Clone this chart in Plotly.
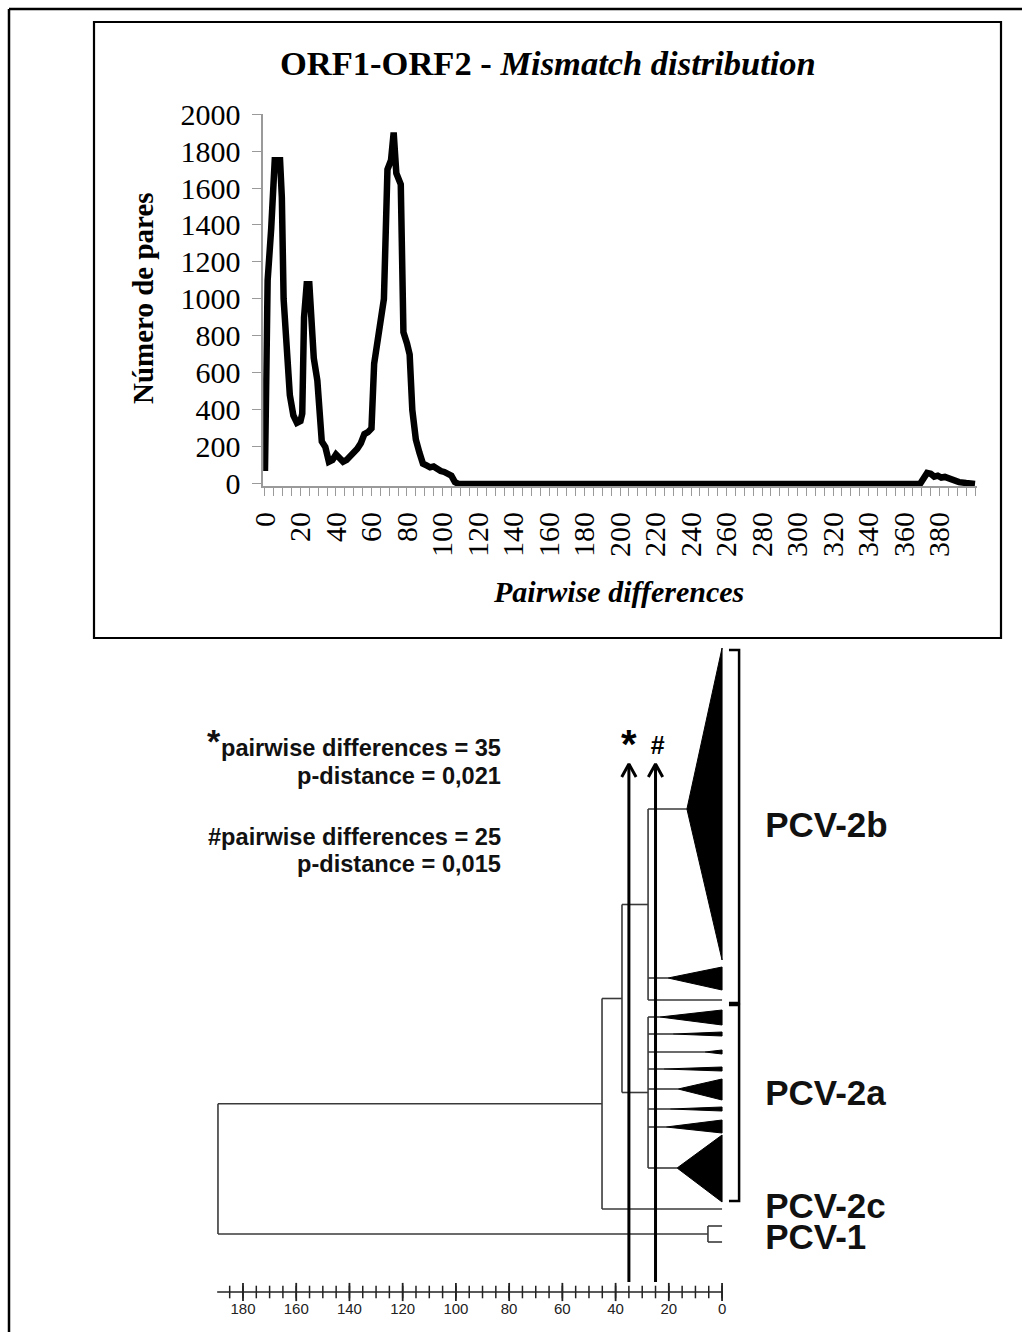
import plotly.graph_objects as go

W, H = 1022, 1332

# ---------------- Mismatch distribution (top panel) ----------------
mm_x = [0, 1.5, 3.5, 5.5, 8.5, 9.5, 10.5, 12, 14, 16, 18, 20, 21, 22, 23.5, 25, 26, 27.5,
        29.5, 31, 32, 34, 36, 38, 40, 42, 44, 46, 48, 50, 52, 54, 56, 58, 60, 61.5, 64,
        67, 69, 71, 72.5, 74, 76.5, 78, 80, 81.5, 83, 85, 87, 89, 91, 93, 95, 97, 99,
        101, 103, 105, 107, 109, 369, 371, 373, 375, 377, 379, 381, 383, 385, 388, 391,
        395, 400]
mm_y = [70, 1100, 1380, 1750, 1750, 1550, 1000, 800, 480, 370, 330, 340, 380, 900, 1080,
        1080, 950, 680, 560, 400, 230, 200, 120, 130, 160, 140, 120, 130, 150, 160, 190,
        220, 270, 280, 300, 650, 800, 1000, 1700, 1750, 1900, 1680, 1620, 820, 760, 700,
        400, 240, 170, 110, 100, 90, 95, 80, 70, 65, 55, 45, 10, 0, 0, 40, 60, 55, 40, 45,
        35, 38, 30, 20, 10, 5, 0]
top_xticks = list(range(0, 381, 20))
top_yticks = list(range(0, 2001, 200))

# ---------------- Tree (bottom panel) ----------------
tri_apex = [13.2, 20.3, 23.3, 18.4, 6.4, 21.8, 16.5, 19.5, 21.0, 16.9]
tri_top = [8, 327, 370, 392, 410, 427, 439, 467, 480, 495]
tri_bot = [320, 350, 385, 396, 414, 431, 460, 471, 493, 562]
tri_row = [169, 338, 377, 394, 412, 429, 449, 469, 487, 528]
single_leaf_row = 360
clade2b_members = [0, 1]
clade2a_members = [2, 3, 4, 5, 6, 7, 8, 9]
node_2b = 27.8
node_2a = 27.8
node_2ab = 37.6
node_2 = 45.1
node_root = 189.4
node_pcv1 = 5.3
pcv2c_row = 569
pcv1_rows = [586, 602]
arrow_vals = [35, 25]
arrow_syms = ["*", "#"]
clade_labels = ["PCV-2b", "PCV-2a", "PCV-2c", "PCV-1"]
clade_label_rows = [188, 456, 569, 600]
bracket_spans = [(10, 363), (365, 561)]
scale_max = 189.7
scale_major = list(range(0, 181, 20))
scale_minor = list(range(0, 186, 5))

fig = go.Figure()

fig.add_trace(go.Scatter(x=mm_x, y=mm_y, mode="lines",
                         line=dict(color="black", width=6.5, shape="linear"),
                         xaxis="x", yaxis="y", hoverinfo="skip", showlegend=False))

bx, by = [], []
def seg(x0, y0, x1, y1):
    bx.extend([x0, x1, None]); by.extend([y0, y1, None])

rows_2b = [tri_row[i] for i in clade2b_members] + [single_leaf_row]
for i in clade2b_members:
    seg(node_2b, tri_row[i], tri_apex[i], tri_row[i])
seg(node_2b, single_leaf_row, 0, single_leaf_row)
seg(node_2b, min(rows_2b), node_2b, max(rows_2b))
mid_2b = (min(rows_2b) + max(rows_2b)) / 2
rows_2a = [tri_row[i] for i in clade2a_members]
for i in clade2a_members:
    seg(node_2a, tri_row[i], tri_apex[i], tri_row[i])
seg(node_2a, min(rows_2a), node_2a, max(rows_2a))
mid_2a = (min(rows_2a) + max(rows_2a)) / 2
seg(node_2ab, mid_2b, node_2b, mid_2b)
seg(node_2ab, mid_2a, node_2a, mid_2a)
seg(node_2ab, mid_2b, node_2ab, mid_2a)
mid_2ab = (mid_2b + mid_2a) / 2
seg(node_2, mid_2ab, node_2ab, mid_2ab)
seg(node_2, pcv2c_row, 0, pcv2c_row)
seg(node_2, mid_2ab, node_2, pcv2c_row)
mid_2 = (mid_2ab + pcv2c_row) / 2
mid_1 = sum(pcv1_rows) / 2
for r in pcv1_rows:
    seg(node_pcv1, r, 0, r)
seg(node_pcv1, pcv1_rows[0], node_pcv1, pcv1_rows[1])
seg(node_root, mid_2, node_2, mid_2)
seg(node_root, mid_1, node_pcv1, mid_1)
seg(node_root, mid_2, node_root, mid_1)

fig.add_trace(go.Scatter(x=bx, y=by, mode="lines", line=dict(color="#3a3a3a", width=1.6),
                         xaxis="x2", yaxis="y2", hoverinfo="skip", showlegend=False))

tx, ty = [], []
for a, t, b, r in zip(tri_apex, tri_top, tri_bot, tri_row):
    tx.extend([a, 0, 0, a, None]); ty.extend([r, t, b, r, None])
fig.add_trace(go.Scatter(x=tx, y=ty, mode="lines", fill="toself", fillcolor="black",
                         line=dict(color="black", width=1),
                         xaxis="x2", yaxis="y2", hoverinfo="skip", showlegend=False))

kx, ky = [], []
for t, b in bracket_spans:
    kx.extend([-2.6, -6.4, -6.4, -2.6, None]); ky.extend([t, t, b, b, None])
fig.add_trace(go.Scatter(x=kx, y=ky, mode="lines", line=dict(color="black", width=2.5),
                         xaxis="x2", yaxis="y2", hoverinfo="skip", showlegend=False))

ax_, ay_ = [], []
for v in arrow_vals:
    ax_.extend([v, v, None, v - 2.7, v, v + 2.7, None])
    ay_.extend([642, 124, None, 137, 124, 137, None])
fig.add_trace(go.Scatter(x=ax_, y=ay_, mode="lines", line=dict(color="black", width=3),
                         xaxis="x2", yaxis="y2", hoverinfo="skip", showlegend=False))

fig.add_trace(go.Scatter(x=[scale_max, 0], y=[652, 652], mode="lines",
                         line=dict(color="#222", width=1.6),
                         xaxis="x2", yaxis="y2", hoverinfo="skip", showlegend=False))
fig.add_trace(go.Scatter(x=scale_minor, y=[652] * len(scale_minor), mode="markers",
                         marker=dict(symbol="line-ns", size=9, line=dict(width=1.5, color="#222")),
                         xaxis="x2", yaxis="y2", hoverinfo="skip", showlegend=False))
fig.add_trace(go.Scatter(x=scale_major, y=[652] * len(scale_major), mode="markers",
                         marker=dict(symbol="line-ns", size=13, line=dict(width=1.8, color="#222")),
                         xaxis="x2", yaxis="y2", hoverinfo="skip", showlegend=False))
fig.add_trace(go.Scatter(x=scale_major, y=[670] * len(scale_major), mode="text",
                         text=[str(v) for v in scale_major], textposition="middle center",
                         textfont=dict(family="Liberation Sans, Arial", size=15, color="#222"),
                         xaxis="x2", yaxis="y2", hoverinfo="skip", showlegend=False))

fig.add_trace(go.Scatter(x=[arrow_vals[0]], y=[108], mode="text", text=["<b>*</b>"],
                         textfont=dict(family="Liberation Sans, Arial", size=40, color="black"),
                         xaxis="x2", yaxis="y2", hoverinfo="skip", showlegend=False))
fig.add_trace(go.Scatter(x=[arrow_vals[1] - 0.8], y=[108], mode="text", text=["<b>#</b>"],
                         textfont=dict(family="Liberation Sans, Arial", size=25, color="black"),
                         xaxis="x2", yaxis="y2", hoverinfo="skip", showlegend=False))

fig.add_trace(go.Scatter(x=[-16.2] * 4, y=clade_label_rows, mode="text",
                         text=[f"<b>{s}</b>" for s in clade_labels], textposition="middle right",
                         textfont=dict(family="Liberation Sans, Arial", size=35, color="#111"),
                         xaxis="x2", yaxis="y2", hoverinfo="skip", showlegend=False))

def px(x):
    return x / W

def py(y):
    return 1 - y / H

ann = []
serif = "Liberation Serif, Times New Roman"
sans = "Liberation Sans, Arial"
ann.append(dict(x=px(548), y=py(63), text="<b>ORF1-ORF2 - <i>Mismatch distribution</i></b>",
                font=dict(family=serif, size=34.5, color="black")))
ann.append(dict(x=px(143), y=py(298), text="<b>Número de pares</b>", textangle=-90,
                font=dict(family=serif, size=29, color="black")))
ann.append(dict(x=px(618), y=py(591), text="<b><i>Pairwise differences</i></b>",
                font=dict(family=serif, size=30, color="black")))
for txt, yy in [("pairwise differences = 35", 748), ("p-distance = 0,021", 776),
                ("#pairwise differences = 25", 837), ("p-distance = 0,015", 864)]:
    ann.append(dict(x=px(503), y=py(yy), text=f"<b>{txt}</b>", xanchor="right",
                    font=dict(family=sans, size=23.6, color="#111")))
ann.append(dict(x=px(214), y=py(741), text="<b>*</b>", font=dict(family=sans, size=34, color="#111")))
for a in ann:
    a.setdefault("xref", "paper"); a.setdefault("yref", "paper")
    a.setdefault("showarrow", False)
    a.setdefault("xanchor", "center"); a.setdefault("yanchor", "middle")

shapes = [
    dict(type="line", xref="paper", yref="paper", x0=px(9), x1=px(1022), y0=py(9), y1=py(9),
         line=dict(color="black", width=2.5)),
    dict(type="line", xref="paper", yref="paper", x0=px(9), x1=px(9), y0=py(9), y1=py(1332),
         line=dict(color="black", width=2.5)),
    dict(type="rect", xref="paper", yref="paper", x0=px(94), x1=px(1001), y0=py(638), y1=py(22),
         line=dict(color="black", width=2.2)),
]

fig.update_layout(
    width=W, height=H, margin=dict(l=0, r=0, t=0, b=0, pad=0, autoexpand=False),
    paper_bgcolor="white", plot_bgcolor="rgba(0,0,0,0)", showlegend=False,
    annotations=ann, shapes=shapes,
    xaxis=dict(domain=[263.2 / W, 976.8 / W], range=[-1, 401], showgrid=False, zeroline=False,
               showline=True, linecolor="#9a9a9a", linewidth=1.5, automargin=False,
               tickmode="array", tickvals=top_xticks, ticks="outside", ticklen=8,
               tickcolor="#9a9a9a", tickwidth=1.2, tickangle=-90, ticklabelstandoff=4,
               tickfont=dict(family=serif, size=30, color="black"),
               minor=dict(tickmode="linear", tick0=0, dtick=5, ticks="outside", ticklen=8,
                          tickcolor="#9a9a9a", tickwidth=1.2),
               anchor="y"),
    yaxis=dict(domain=[1 - 486.2 / H, 1 - 114 / H], range=[-12, 2000], showgrid=False,
               zeroline=False, showline=True, linecolor="#9a9a9a", linewidth=1.5,
               automargin=False,
               tickmode="array", tickvals=top_yticks, ticks="outside", ticklen=9,
               tickcolor="#9a9a9a", tickwidth=1.2, ticklabelstandoff=6,
               tickfont=dict(family=serif, size=30, color="black"), anchor="x"),
    xaxis2=dict(domain=[0, 1], range=[271.3, -112.7], visible=False, anchor="y2",
                automargin=False),
    yaxis2=dict(domain=[0, 1 - 640 / H], range=[692, 0], visible=False, anchor="x2",
                automargin=False),
)

fig.write_html("out.html", config={"displayModeBar": False},
               post_script="document.body.style.margin='0';document.body.style.overflow='hidden';")
